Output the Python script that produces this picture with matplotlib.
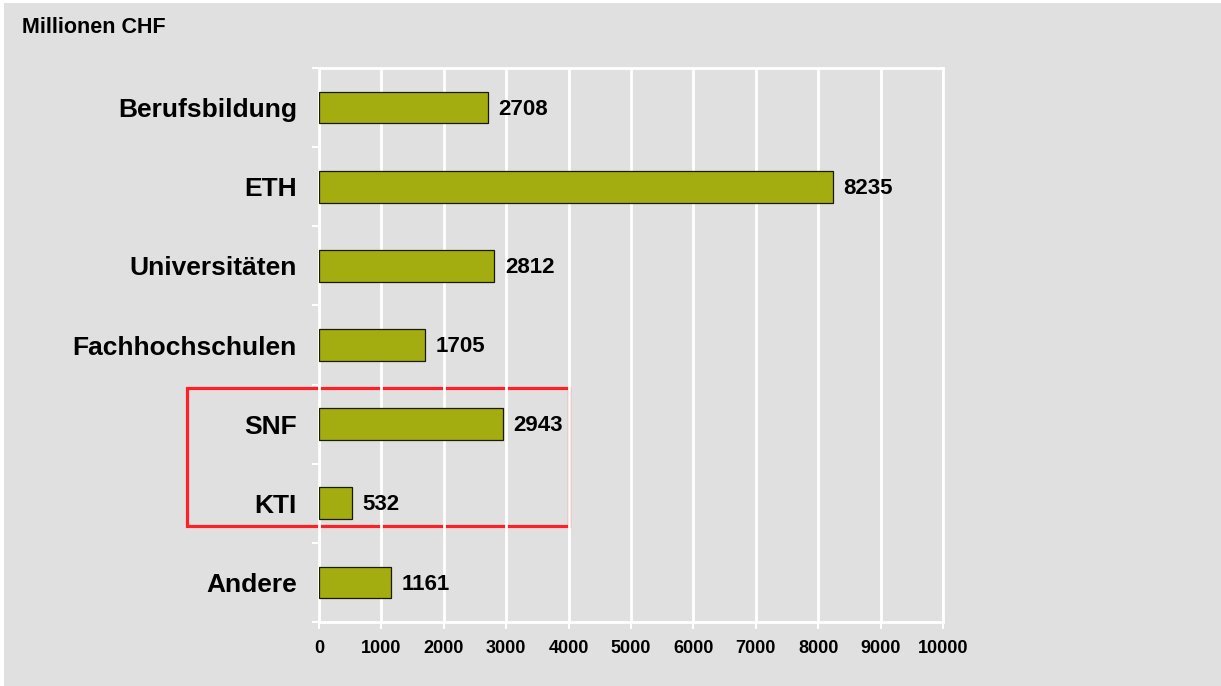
import matplotlib.pyplot as plt
from matplotlib.patches import Rectangle
from matplotlib.ticker import FixedLocator

categories = ["Berufsbildung", "ETH", "Universitäten", "Fachhochschulen", "SNF", "KTI", "Andere"]
values = [2708, 8235, 2812, 1705, 2943, 532, 1161]
xticks = [0, 1000, 2000, 3000, 4000, 5000, 6000, 7000, 8000, 9000, 10000]

bg = "#e0e0e0"
bar_color = "#a3ad0f"

plt.rcParams['font.family'] = ['Liberation Sans', 'DejaVu Sans']
plt.rcParams['font.weight'] = 'bold'

W, H = 1221, 686
fig = plt.figure(figsize=(W / 100, H / 100), dpi=100, facecolor="white")

# grey panel with a thin white margin at top/left
fig.patches.append(Rectangle((4 / W, 0), 1 - 4 / W, 1 - 3 / H, transform=fig.transFigure,
                             facecolor=bg, edgecolor="none", zorder=-3))

ax = fig.add_axes([319 / W, 1 - 622 / H, (943 - 319) / W, (622 - 68) / H])
ax.set_facecolor("none")

ypos = list(range(len(categories)))
ax.barh(ypos, values, height=0.4, color=bar_color, edgecolor="#1a1a00", linewidth=0.9, zorder=3)
for y, v in zip(ypos, values):
    ax.text(v + 170, y + 0.02, str(v), va="center", ha="left", fontsize=16, fontweight="bold", zorder=4)

ax.set_xlim(0, 10000)
ax.set_ylim(len(categories) - 0.5, -0.5)
ax.set_xticks(xticks)
ax.set_xticklabels([str(t) for t in xticks], fontsize=13, fontweight="bold")
ax.set_yticks(ypos)
ax.set_yticklabels(categories, fontsize=19, fontweight="bold")
ax.yaxis.set_minor_locator(FixedLocator([i - 0.5 for i in range(len(categories) + 1)]))

ax.tick_params(axis="y", which="major", length=0, pad=16)
ax.tick_params(axis="y", which="minor", length=5, color="white", width=1.5)
ax.tick_params(axis="x", length=5, color="white", width=1.5, pad=8)

ax.grid(axis="x", color="white", linewidth=2, zorder=1)
ax.set_axisbelow(True)
for side in ["left", "right", "top", "bottom"]:
    ax.spines[side].set_color("white")
    ax.spines[side].set_linewidth(2)

# red highlight box around SNF / KTI
fig.patches.append(Rectangle((187 / W, 1 - 526 / H), (569 - 187) / W, (526 - 388) / H,
                             transform=fig.transFigure, facecolor="none",
                             edgecolor="#ff2025", linewidth=2.3, zorder=-1))

fig.text(22 / W, 1 - 27.5 / H, "Millionen CHF", fontsize=15.5, fontweight="bold", va="center", ha="left")

fig.savefig("out.png", dpi=100, facecolor=fig.get_facecolor())
